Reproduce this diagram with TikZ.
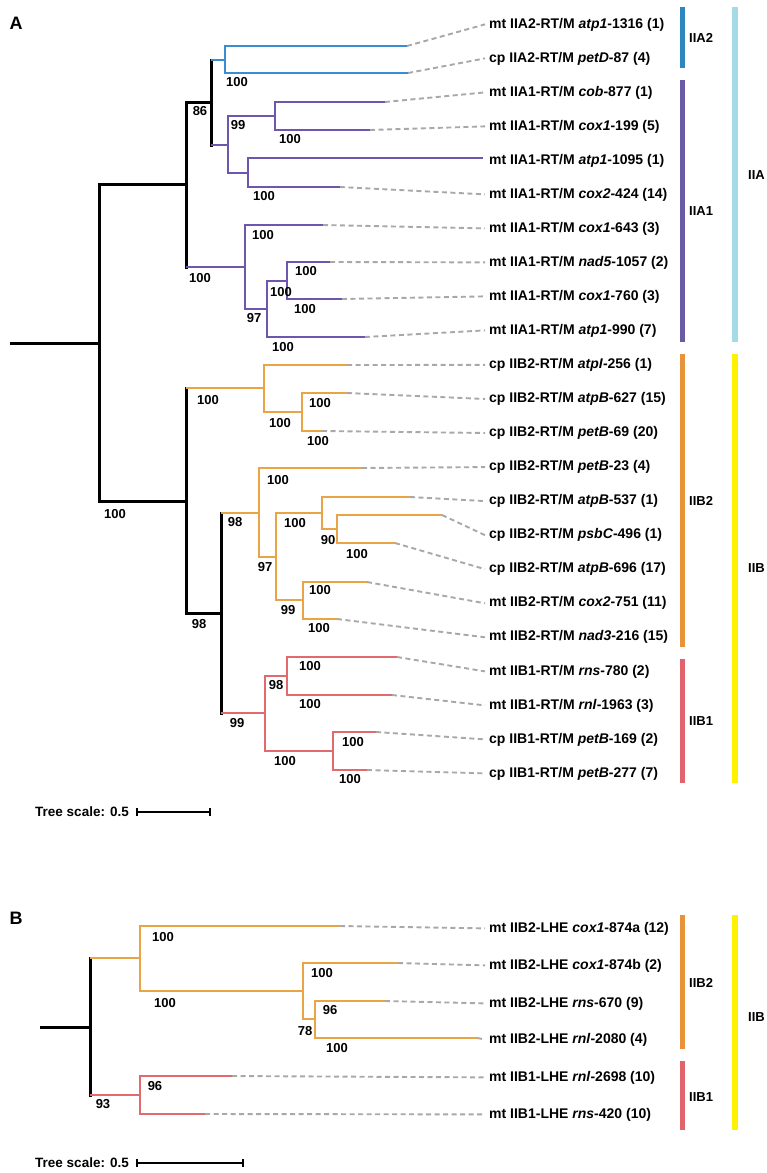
\documentclass[tikz,border=0pt]{standalone}
\usepackage{fontspec}
\setmainfont{Liberation Sans}
\definecolor{tblue}{HTML}{3A8DD3}
\definecolor{tpurple}{HTML}{6E55AE}
\definecolor{torange}{HTML}{E9A446}
\definecolor{tred}{HTML}{E06A6E}
\definecolor{bblue}{HTML}{2E86C1}
\definecolor{bpurple}{HTML}{6A5AA6}
\definecolor{borange}{HTML}{E8923A}
\definecolor{bred}{HTML}{E0646C}
\definecolor{blight}{HTML}{A5DBE8}
\definecolor{byellow}{HTML}{FFF200}
\definecolor{dgray}{HTML}{A8A8A8}
\tikzset{
 hb/.style={line width=2.8pt},
 vb/.style={line width=2.8pt, line cap=rect},
 hk/.style={line width=3pt, black},
 vk/.style={line width=3pt, black, line cap=rect},
 dl/.style={dgray, line width=1.9pt, dash pattern=on 5pt off 3.5pt},
 lab/.style={anchor=base west, inner xsep=4pt, inner ysep=0pt, font=\fontsize{14}{16}\selectfont\bfseries},
 bs/.style={inner sep=0pt, font=\fontsize{13}{14}\selectfont\bfseries},
 grp/.style={anchor=west, inner sep=0pt, font=\fontsize{13}{15}\selectfont\bfseries},
 panel/.style={inner sep=0pt, font=\fontsize{18}{20}\selectfont\bfseries},
 barline/.style={line width=5pt},
 bigbar/.style={line width=6pt},
 scl/.style={anchor=east, inner sep=0pt, font=\fontsize{13.5}{15}\selectfont\bfseries},
}
\begin{document}
\begin{tikzpicture}[x=1pt,y=-1pt]
\useasboundingbox[fill=white] (0,0) rectangle (767,1173);
\node[panel] (pA) at (16,23) {A};
\node[panel] (pB) at (16,918) {B};

% ---------------- Panel A coordinates
\coordinate (stemA) at (10,343);
\coordinate (R) at (99,343);
\coordinate (nIIA) at (186,184);
\coordinate (n86) at (211,102);
\coordinate (nIIA2) at (225,60);
\coordinate (n99) at (228,145);
\coordinate (nCob) at (275,116);
\coordinate (nAtp) at (248,173);
\coordinate (nLow) at (245,267);
\coordinate (n97) at (267,309);
\coordinate (nNad) at (287,281);
\coordinate (nIIB) at (186,501);
\coordinate (nB2a) at (264,388);
\coordinate (nB2aa) at (302,412);
\coordinate (n98) at (221,613);
\coordinate (nB2b) at (259,513);
\coordinate (n97b) at (276,557);
\coordinate (n100c) at (322,513);
\coordinate (n90) at (337,529);
\coordinate (n99b) at (303,600);
\coordinate (nB1) at (265,713);
\coordinate (nB1a) at (287,676);
\coordinate (nB1b) at (333,751);

\coordinate (t0) at (407,46);
\coordinate (t1) at (408,73);
\coordinate (t2) at (385,102);
\coordinate (t3) at (370,130);
\coordinate (t4) at (483,158);
\coordinate (t5) at (340,187);
\coordinate (t6) at (323,225);
\coordinate (t7) at (330,262);
\coordinate (t8) at (342,299);
\coordinate (t9) at (365,337);
\coordinate (t10) at (347,365);
\coordinate (t11) at (347,393);
\coordinate (t12) at (322,431);
\coordinate (t13) at (362,468);
\coordinate (t14) at (410,497);
\coordinate (t15) at (442,515);
\coordinate (t16) at (395,543);
\coordinate (t17) at (367,582);
\coordinate (t18) at (337,619);
\coordinate (t19) at (397,657);
\coordinate (t20) at (392,695);
\coordinate (t21) at (376,732);
\coordinate (t22) at (367,770);

% ---------------- Panel A labels
\node[lab] (l0) at (485,28) {mt IIA2-RT/M \textit{atp1}-1316 (1)};
\node[lab] (l1) at (485,62) {cp IIA2-RT/M \textit{petD}-87 (4)};
\node[lab] (l2) at (485,96) {mt IIA1-RT/M \textit{cob}-877 (1)};
\node[lab] (l3) at (485,130) {mt IIA1-RT/M \textit{cox1}-199 (5)};
\node[lab] (l4) at (485,164) {mt IIA1-RT/M \textit{atp1}-1095 (1)};
\node[lab] (l5) at (485,198) {mt IIA1-RT/M \textit{cox2}-424 (14)};
\node[lab] (l6) at (485,232) {mt IIA1-RT/M \textit{cox1}-643 (3)};
\node[lab] (l7) at (485,266) {mt IIA1-RT/M \textit{nad5}-1057 (2)};
\node[lab] (l8) at (485,300) {mt IIA1-RT/M \textit{cox1}-760 (3)};
\node[lab] (l9) at (485,334) {mt IIA1-RT/M \textit{atp1}-990 (7)};
\node[lab] (l10) at (485,368.5) {cp IIB2-RT/M \textit{atpI}-256 (1)};
\node[lab] (l11) at (485,402.6) {cp IIB2-RT/M \textit{atpB}-627 (15)};
\node[lab] (l12) at (485,436.6) {cp IIB2-RT/M \textit{petB}-69 (20)};
\node[lab] (l13) at (485,470.7) {cp IIB2-RT/M \textit{petB}-23 (4)};
\node[lab] (l14) at (485,504.7) {cp IIB2-RT/M \textit{atpB}-537 (1)};
\node[lab] (l15) at (485,538.8) {cp IIB2-RT/M \textit{psbC}-496 (1)};
\node[lab] (l16) at (485,572.8) {cp IIB2-RT/M \textit{atpB}-696 (17)};
\node[lab] (l17) at (485,606.9) {mt IIB2-RT/M \textit{cox2}-751 (11)};
\node[lab] (l18) at (485,640.9) {mt IIB2-RT/M \textit{nad3}-216 (15)};
\node[lab] (l19) at (485,675) {mt IIB1-RT/M \textit{rns}-780 (2)};
\node[lab] (l20) at (485,709) {mt IIB1-RT/M \textit{rnl}-1963 (3)};
\node[lab] (l21) at (485,743) {cp IIB1-RT/M \textit{petB}-169 (2)};
\node[lab] (l22) at (485,777) {cp IIB1-RT/M \textit{petB}-277 (7)};

% dashed leaders
\foreach \i in {0,1,2,3,5,6,7,8,9,10,11,12,13,14,15,16,17,18,19,20,21,22}
  \draw[dl] (t\i) -- (l\i.west);

% ---------------- Panel A branches
\draw[hk] (stemA) -- (R);
\draw[vk] (R |- nIIA) -- (R |- nIIB);
\draw[hk] (R |- nIIA) -- (nIIA);
\draw[hk] (R |- nIIB) -- (nIIB);
% IIA
\draw[vk] (nIIA |- n86) -- (nIIA |- nLow);
\draw[hk] (nIIA |- n86) -- (n86);
\draw[hb,tpurple] (nIIA |- nLow) -- (nLow);
\draw[vk] (n86 |- nIIA2) -- (n86 |- n99);
\draw[hb,tblue] (n86 |- nIIA2) -- (nIIA2);
\draw[hb,tpurple] (n86 |- n99) -- (n99);
\draw[vb,tblue] (nIIA2 |- t0) -- (nIIA2 |- t1);
\draw[hb,tblue] (nIIA2 |- t0) -- (t0);
\draw[hb,tblue] (nIIA2 |- t1) -- (t1);
\begin{scope}[tpurple]
\draw[vb] (n99 |- nCob) -- (n99 |- nAtp);
\draw[hb] (n99 |- nCob) -- (nCob);
\draw[hb] (n99 |- nAtp) -- (nAtp);
\draw[vb] (nCob |- t2) -- (nCob |- t3);
\draw[hb] (nCob |- t2) -- (t2);
\draw[hb] (nCob |- t3) -- (t3);
\draw[vb] (nAtp |- t4) -- (nAtp |- t5);
\draw[hb] (nAtp |- t4) -- (t4);
\draw[hb] (nAtp |- t5) -- (t5);
\draw[vb] (nLow |- t6) -- (nLow |- n97);
\draw[hb] (nLow |- t6) -- (t6);
\draw[hb] (nLow |- n97) -- (n97);
\draw[vb] (n97 |- nNad) -- (n97 |- t9);
\draw[hb] (n97 |- nNad) -- (nNad);
\draw[hb] (n97 |- t9) -- (t9);
\draw[vb] (nNad |- t7) -- (nNad |- t8);
\draw[hb] (nNad |- t7) -- (t7);
\draw[hb] (nNad |- t8) -- (t8);
\end{scope}
% IIB
\draw[vk] (nIIB |- nB2a) -- (nIIB |- n98);
\draw[hb,torange] (nIIB |- nB2a) -- (nB2a);
\draw[hk] (nIIB |- n98) -- (n98);
\draw[vk] (n98 |- nB2b) -- (n98 |- nB1);
\draw[hb,torange] (n98 |- nB2b) -- (nB2b);
\draw[hb,tred] (n98 |- nB1) -- (nB1);
\begin{scope}[torange]
\draw[vb] (nB2a |- t10) -- (nB2a |- nB2aa);
\draw[hb] (nB2a |- t10) -- (t10);
\draw[hb] (nB2a |- nB2aa) -- (nB2aa);
\draw[vb] (nB2aa |- t11) -- (nB2aa |- t12);
\draw[hb] (nB2aa |- t11) -- (t11);
\draw[hb] (nB2aa |- t12) -- (t12);
\draw[vb] (nB2b |- t13) -- (nB2b |- n97b);
\draw[hb] (nB2b |- t13) -- (t13);
\draw[hb] (nB2b |- n97b) -- (n97b);
\draw[vb] (n97b |- n100c) -- (n97b |- n99b);
\draw[hb] (n97b |- n100c) -- (n100c);
\draw[hb] (n97b |- n99b) -- (n99b);
\draw[vb] (n100c |- t14) -- (n100c |- n90);
\draw[hb] (n100c |- t14) -- (t14);
\draw[hb] (n100c |- n90) -- (n90);
\draw[vb] (n90 |- t15) -- (n90 |- t16);
\draw[hb] (n90 |- t15) -- (t15);
\draw[hb] (n90 |- t16) -- (t16);
\draw[vb] (n99b |- t17) -- (n99b |- t18);
\draw[hb] (n99b |- t17) -- (t17);
\draw[hb] (n99b |- t18) -- (t18);
\end{scope}
\begin{scope}[tred]
\draw[vb] (nB1 |- nB1a) -- (nB1 |- nB1b);
\draw[hb] (nB1 |- nB1a) -- (nB1a);
\draw[hb] (nB1 |- nB1b) -- (nB1b);
\draw[vb] (nB1a |- t19) -- (nB1a |- t20);
\draw[hb] (nB1a |- t19) -- (t19);
\draw[hb] (nB1a |- t20) -- (t20);
\draw[vb] (nB1b |- t21) -- (nB1b |- t22);
\draw[hb] (nB1b |- t21) -- (t21);
\draw[hb] (nB1b |- t22) -- (t22);
\end{scope}

% ---------------- Panel A support values
\node[bs] (b1) at (115,514) {100};
\node[bs] (b2) at (200,111) {86};
\node[bs] (b3) at (200,278) {100};
\node[bs] (b4) at (237,82) {100};
\node[bs] (b5) at (238,125) {99};
\node[bs] (b6) at (290,139) {100};
\node[bs] (b7) at (264,196) {100};
\node[bs] (b8) at (263,235) {100};
\node[bs] (b9) at (254,318) {97};
\node[bs] (b10) at (306,271) {100};
\node[bs] (b11) at (281,292) {100};
\node[bs] (b12) at (305,309) {100};
\node[bs] (b13) at (283,347) {100};
\node[bs] (b14) at (199,624) {98};
\node[bs] (b15) at (208,400) {100};
\node[bs] (b16) at (280,423) {100};
\node[bs] (b17) at (320,403) {100};
\node[bs] (b18) at (318,441) {100};
\node[bs] (b19) at (235,522) {98};
\node[bs] (b20) at (237,723) {99};
\node[bs] (b21) at (278,480) {100};
\node[bs] (b22) at (265,567) {97};
\node[bs] (b23) at (295,523) {100};
\node[bs] (b24) at (328,540) {90};
\node[bs] (b25) at (357,554) {100};
\node[bs] (b26) at (288,610) {99};
\node[bs] (b27) at (320,590) {100};
\node[bs] (b28) at (319,628) {100};
\node[bs] (b29) at (276,685) {98};
\node[bs] (b30) at (310,666) {100};
\node[bs] (b31) at (310,704) {100};
\node[bs] (b32) at (285,761) {100};
\node[bs] (b33) at (353,742) {100};
\node[bs] (b34) at (350,779) {100};

% ---------------- Panel A group bars
\draw[barline,bblue] (682,7) -- (682,68);
\node[grp] (gA2) at (689,38) {IIA2};
\draw[barline,bpurple] (682,80) -- (682,342);
\node[grp] (gA1) at (689,211) {IIA1};
\draw[barline,borange] (682,354) -- (682,647);
\node[grp] (gB2) at (689,501) {IIB2};
\draw[barline,bred] (682,659) -- (682,783);
\node[grp] (gB1) at (689,721) {IIB1};
\draw[bigbar,blight] (735,7) -- (735,342);
\node[grp] (gA) at (748,175) {IIA};
\draw[bigbar,byellow] (735,354) -- (735,783);
\node[grp] (gB) at (748,568) {IIB};

% ---------------- Panel A scale
\node[scl] (scA) at (129,812) {Tree scale: 0.5};
\coordinate (sa1) at (137,812);
\coordinate (sa2) at (210,812);
\draw[line width=1.8pt] (sa1) -- (sa2);
\draw[line width=1.5pt] ([yshift=-4pt]sa1) -- ([yshift=4pt]sa1);
\draw[line width=1.5pt] ([yshift=-4pt]sa2) -- ([yshift=4pt]sa2);

% ---------------- Panel B
\coordinate (stemB) at (40,1027);
\coordinate (RB) at (90,1027);
\coordinate (m2) at (140,958);
\coordinate (m2i) at (303,991);
\coordinate (m2j) at (315,1019);
\coordinate (m1) at (140,1095);
\coordinate (s0) at (340,926);
\coordinate (s1) at (398,963);
\coordinate (s2) at (385,1001);
\coordinate (s3) at (477,1038);
\coordinate (s4) at (232,1076);
\coordinate (s5) at (205,1114);

\node[lab] (k0) at (485,932) {mt IIB2-LHE \textit{cox1}-874a (12)};
\node[lab] (k1) at (485,969) {mt IIB2-LHE \textit{cox1}-874b (2)};
\node[lab] (k2) at (485,1007) {mt IIB2-LHE \textit{rns}-670 (9)};
\node[lab] (k3) at (485,1043) {mt IIB2-LHE \textit{rnl}-2080 (4)};
\node[lab] (k4) at (485,1081) {mt IIB1-LHE \textit{rnl}-2698 (10)};
\node[lab] (k5) at (485,1118) {mt IIB1-LHE \textit{rns}-420 (10)};
\foreach \i in {0,...,5}
  \draw[dl] (s\i) -- (k\i.west);

\draw[hk] (stemB) -- (RB);
\draw[vk] (RB |- m2) -- (RB |- m1);
\draw[hb,torange] (RB |- m2) -- (m2);
\draw[hb,tred] (RB |- m1) -- (m1);
\begin{scope}[torange]
\draw[vb] (m2 |- s0) -- (m2 |- m2i);
\draw[hb] (m2 |- s0) -- (s0);
\draw[hb] (m2 |- m2i) -- (m2i);
\draw[vb] (m2i |- s1) -- (m2i |- m2j);
\draw[hb] (m2i |- s1) -- (s1);
\draw[hb] (m2i |- m2j) -- (m2j);
\draw[vb] (m2j |- s2) -- (m2j |- s3);
\draw[hb] (m2j |- s2) -- (s2);
\draw[hb] (m2j |- s3) -- (s3);
\end{scope}
\begin{scope}[tred]
\draw[vb] (m1 |- s4) -- (m1 |- s5);
\draw[hb] (m1 |- s4) -- (s4);
\draw[hb] (m1 |- s5) -- (s5);
\end{scope}

\node[bs] (c1) at (163,937) {100};
\node[bs] (c2) at (165,1003) {100};
\node[bs] (c3) at (322,973) {100};
\node[bs] (c4) at (305,1031) {78};
\node[bs] (c5) at (330,1010) {96};
\node[bs] (c6) at (337,1048) {100};
\node[bs] (c7) at (155,1086) {96};
\node[bs] (c8) at (103,1104) {93};

\draw[barline,borange] (682,915) -- (682,1049);
\node[grp] (hB2) at (689,983) {IIB2};
\draw[barline,bred] (682,1061) -- (682,1130);
\node[grp] (hB1) at (689,1097) {IIB1};
\draw[bigbar,byellow] (735,915) -- (735,1130);
\node[grp] (hB) at (748,1017) {IIB};

\node[scl] (scB) at (129,1163) {Tree scale: 0.5};
\coordinate (sb1) at (137,1163);
\coordinate (sb2) at (243,1163);
\draw[line width=1.8pt] (sb1) -- (sb2);
\draw[line width=1.5pt] ([yshift=-4pt]sb1) -- ([yshift=4pt]sb1);
\draw[line width=1.5pt] ([yshift=-4pt]sb2) -- ([yshift=4pt]sb2);
\end{tikzpicture}
\end{document}
